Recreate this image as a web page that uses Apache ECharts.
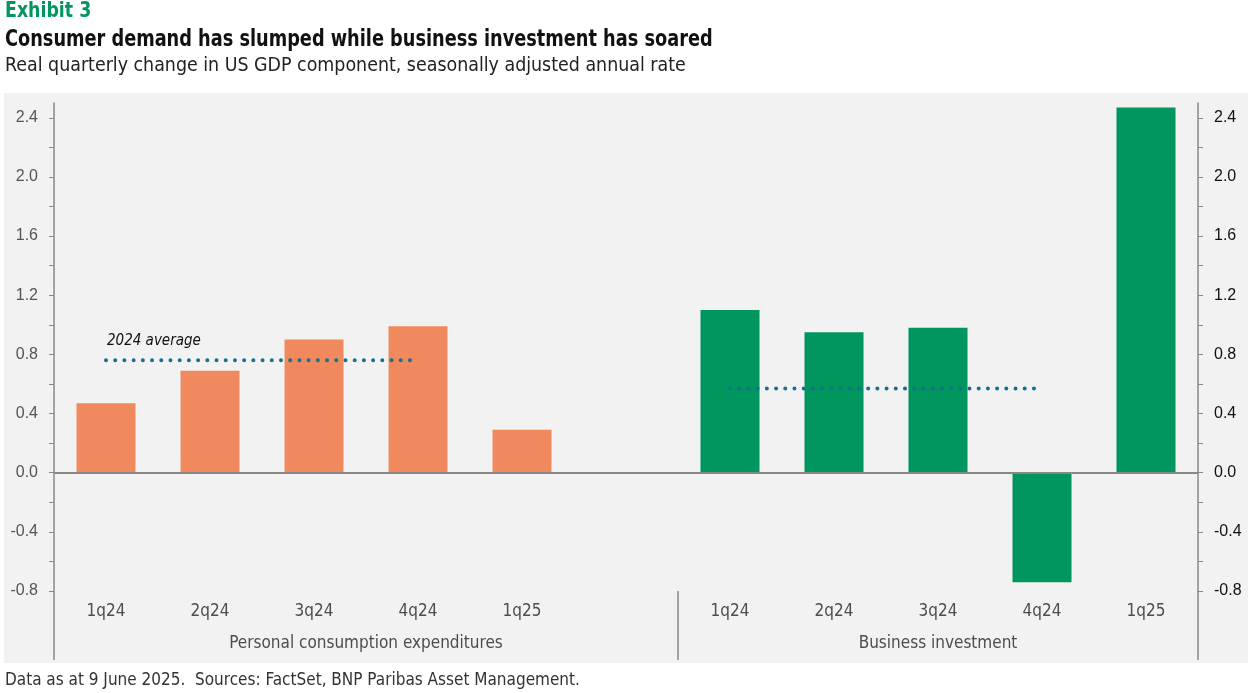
<!DOCTYPE html>
<html>
<head>
<meta charset="utf-8">
<script src="https://cdn.jsdelivr.net/npm/echarts@6/dist/echarts.min.js"></script>
<style>
  html, body { margin: 0; padding: 0; background: #fff; }
  #chart { width: 1251px; height: 693px; }
</style>
</head>
<body>
<div id="chart"></div>
<script>
// values
const quarters = ['1q24', '2q24', '3q24', '4q24', '1q25'];
const groups = ['Personal consumption expenditures', 'Business investment'];
const pceValues = [0.47, 0.69, 0.90, 0.99, 0.29];
const bizValues = [1.10, 0.95, 0.98, -0.74, 2.47];
const pceAvg = 0.76;
const bizAvg = 0.57;
const yLabelValues = [-0.8, -0.4, 0, 0.4, 0.8, 1.2, 1.6, 2.0, 2.4];
const yTickValues = [-0.8, -0.6, -0.4, -0.2, 0, 0.2, 0.4, 0.6, 0.8, 1.0, 1.2, 1.4, 1.6, 1.8, 2.0, 2.2, 2.4];

const NARROW = "'Liberation Sans Narrow', 'DejaVu Sans Condensed', 'Roboto', sans-serif";
const GREEN = '#00965e';
const ORANGE = '#f0895d';
const DOTS = '#17708f';

// left group gets an empty 6th slot before the second group
const categories = [...quarters, '', ...quarters];
const gap = quarters.length + 1;
const pceData = categories.map((c, i) => i < quarters.length ? pceValues[i] : null);
const bizData = categories.map((c, i) => i >= gap ? bizValues[i - gap] : null);
const pceAvgData = categories.map((c, i) => i <= 3 ? pceAvg : null);
const bizAvgData = categories.map((c, i) => i >= gap && i <= gap + 3 ? bizAvg : null);

const chart = echarts.init(document.getElementById('chart'));

const yAxisBase = {
  type: 'value',
  min: -0.8,
  max: 2.5,
  splitLine: { show: false },
  axisLine: { show: true, lineStyle: { color: '#888', width: 1.5 } },
  axisTick: { show: true, length: 5, customValues: yTickValues, lineStyle: { color: '#888' } },
};

const option = {
  animation: false,
  grid: { left: 54, right: 53, top: 103, bottom: 102 },
  xAxis: {
    type: 'category',
    data: categories,
    position: 'bottom',
    axisLine: { show: false, onZero: false },
    axisTick: { show: false },
    axisLabel: { margin: 12, fontFamily: NARROW, fontSize: 17, color: '#4d4d4d', interval: 0 }
  },
  yAxis: [
    Object.assign({}, yAxisBase, {
      position: 'left',
      axisLabel: {
        customValues: yLabelValues, margin: 16, fontFamily: 'Liberation Sans, Arial, sans-serif',
        fontSize: 16, color: '#555', formatter: v => v.toFixed(1)
      }
    }),
    Object.assign({}, yAxisBase, {
      position: 'right',
      axisLabel: {
        customValues: yLabelValues, margin: 16, fontFamily: 'Liberation Sans, Arial, sans-serif',
        fontSize: 16, color: '#111', formatter: v => v.toFixed(1)
      }
    })
  ],
  series: [
    {
      type: 'bar', stack: 'g', data: pceData, barWidth: 59,
      itemStyle: { color: ORANGE },
      markLine: {
        silent: true, symbol: 'none', label: { show: false },
        lineStyle: { color: '#888', type: 'solid', width: 2 },
        data: [{ yAxis: 0 }]
      }
    },
    { type: 'bar', stack: 'g', data: bizData, barWidth: 59, itemStyle: { color: GREEN } },
    {
      type: 'line', data: pceAvgData, symbol: 'none', z: 5,
      lineStyle: { color: DOTS, width: 4, type: [0.01, 9.2], cap: 'round' }
    },
    {
      type: 'line', data: bizAvgData, symbol: 'none', z: 5,
      lineStyle: { color: DOTS, width: 4, type: [0.01, 9.2], cap: 'round' }
    }
  ]
};

chart.setOption(option);

// frame, titles, group separators and labels placed from the axes
const px = (i, v) => chart.convertToPixel({ xAxisIndex: 0, yAxisIndex: 0 }, [i, v]);
const gridLeft = 54, gridRight = 1251 - 53;
const axisBottom = px(0, -0.8)[1];
const sepX = (px(gap - 1, 0)[0] + px(gap, 0)[0]) / 2;
const frameBottom = 660;
const avgLabel = px(0, pceAvg);

const vline = (x) => ({
  type: 'line', silent: true, z: 10,
  shape: { x1: x, y1: axisBottom, x2: x, y2: frameBottom },
  style: { stroke: '#888', lineWidth: 1.5 }
});
const text = (t, x, y, font, fill, align, sx) => ({
  type: 'text', silent: true, z: 10, x: x, y: y, scaleX: sx || 1,
  style: { text: t, x: 0, y: 0, font: font, fill: fill, align: align || 'left', verticalAlign: 'middle' }
});

chart.setOption({
  graphic: [
    { type: 'rect', silent: true, z: -10, shape: { x: 4, y: 93, width: 1244, height: 570 }, style: { fill: '#f2f2f2' } },
    vline(gridLeft), vline(sepX), vline(gridRight),
    text(groups[0], (gridLeft + sepX) / 2, 644, '17px ' + NARROW, '#4d4d4d', 'center'),
    text(groups[1], (sepX + gridRight) / 2, 644, '17px ' + NARROW, '#4d4d4d', 'center'),
    text('2024 average', avgLabel[0] + 1, avgLabel[1] - 19, 'italic 15px ' + NARROW, '#111'),
    text('Exhibit 3', 5, 12, 'bold 21px ' + NARROW, GREEN, 'left', 0.92),
    text('Consumer demand has slumped while business investment has soared', 5, 40, 'bold 23px ' + NARROW, '#111', 'left', 0.857),
    text('Real quarterly change in US GDP component, seasonally adjusted annual rate', 5, 66, '19.4px ' + NARROW, '#222'),
    text('Data as at 9 June 2025.  Sources: FactSet, BNP Paribas Asset Management.', 5, 681, '17px ' + NARROW, '#333')
  ]
});
</script>
</body>
</html>
